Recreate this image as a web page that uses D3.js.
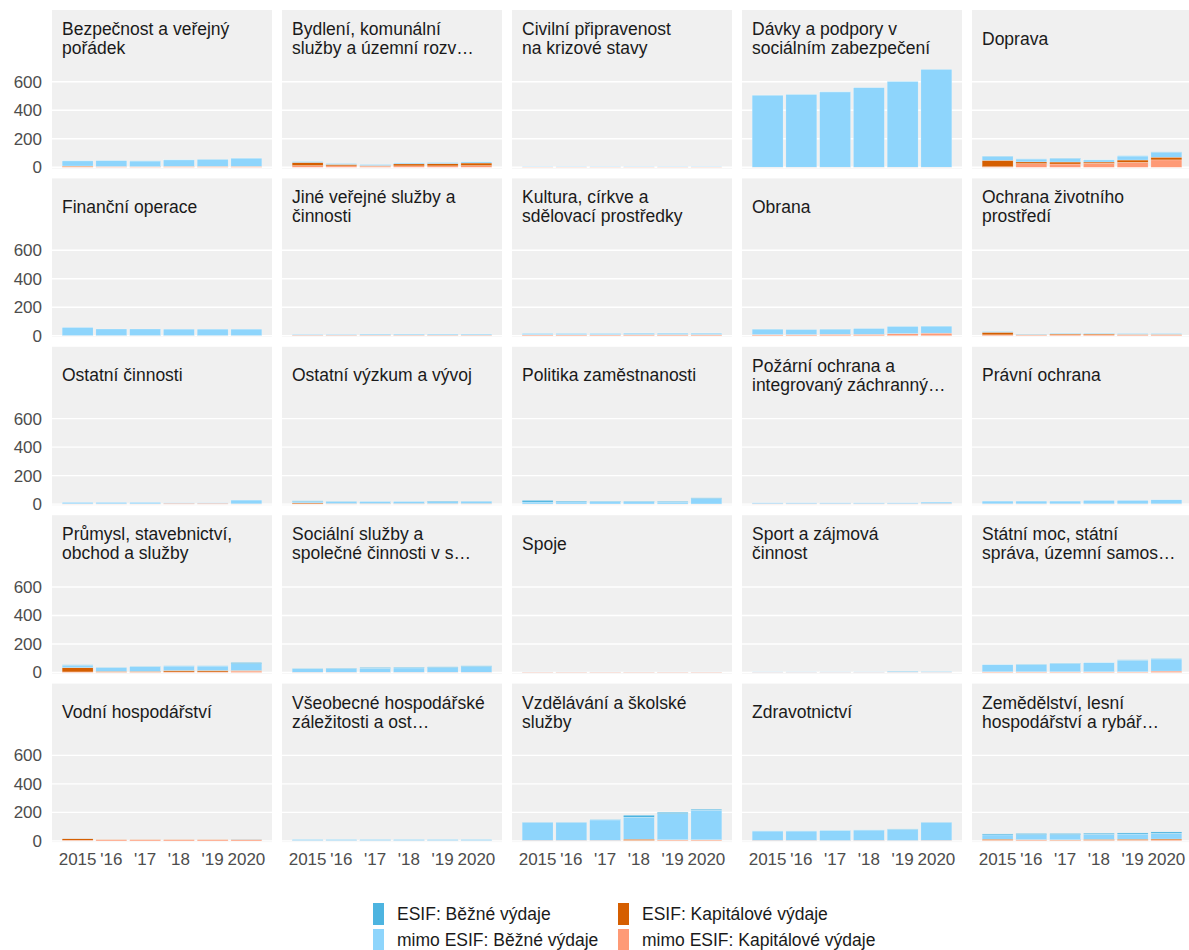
<!DOCTYPE html>
<html>
<head>
<meta charset="utf-8">
<script src="https://cdn.jsdelivr.net/npm/d3@7"></script>
<style>
  html, body { margin: 0; padding: 0; background: #fff; }
  svg { display: block; font-family: "Liberation Sans", Arial, sans-serif; }
</style>
</head>
<body>
<svg id="chart" width="1189" height="950"></svg>
<script>
// years on the x axis and their labels
const years = [2015, 2016, 2017, 2018, 2019, 2020]
const yearLabels = ['2015', "'16", "'17", "'18", "'19", '2020']
const yTicks = [0, 200, 400, 600]

// panel titles (line breaks as shown)
const categories = [
    'Bezpečnost a veřejný\npořádek',
    'Bydlení, komunální\nslužby a územní rozv…',
    'Civilní připravenost\nna krizové stavy',
    'Dávky a podpory v\nsociálním zabezpečení',
    'Doprava',
    'Finanční operace',
    'Jiné veřejné služby a\nčinnosti',
    'Kultura, církve a\nsdělovací prostředky',
    'Obrana',
    'Ochrana životního\nprostředí',
    'Ostatní činnosti',
    'Ostatní výzkum a vývoj',
    'Politika zaměstnanosti',
    'Požární ochrana a\nintegrovaný záchranný…',
    'Právní ochrana',
    'Průmysl, stavebnictví,\nobchod a služby',
    'Sociální služby a\nspolečné činnosti v s…',
    'Spoje',
    'Sport a zájmová\nčinnost',
    'Státní moc, státní\nspráva, územní samos…',
    'Vodní hospodářství',
    'Všeobecné hospodářské\nzáležitosti a ost…',
    'Vzdělávání a školské\nslužby',
    'Zdravotnictví',
    'Zemědělství, lesní\nhospodářství a rybář…'
]

// series, one row per category, values per year
const esifBezne = [
    [1,1,1,1,1,1], [1,1,1,1,1,1], [0,0,0,0,0,0], [1,1,1,1,1,1], [2,1,2,1,2,3],
    [0,0,0,0,0,0], [1,1,1,1,1,1], [1,1,1,1,1,1], [1,1,1,1,1,1], [1,1,1,1,1,1],
    [0,0,0,0,0,0], [5,2,1,1,4,2], [12,6,5,5,5,5], [0,0,0,0,0,0], [0,0,0,0,0,0],
    [3,2,2,2,2,8], [2,3,5,5,5,5], [0,0,0,0,0,0], [1,1,1,1,2,1], [2,2,2,2,3,3],
    [0,0,0,0,0,0], [1,1,1,1,1,1], [2,2,3,14,10,7], [1,1,1,1,3,2], [7,8,8,8,8,10]
]
const mimoBezne = [
    [36,40,39,45,49,57], [6,6,7,7,7,8], [3,3,3,3,3,3], [505,510,528,557,601,686], [28,20,26,15,28,34],
    [57,46,46,45,45,45], [4,4,7,7,7,7], [9,9,9,10,10,10], [38,35,36,40,50,49], [5,3,5,5,5,5],
    [10,10,10,3,3,26], [9,13,14,14,13,15], [13,14,15,15,13,38], [6,6,6,6,6,10], [19,19,19,24,24,28],
    [17,25,32,31,31,48], [24,25,28,30,33,40], [1,1,1,1,1,1], [2,2,2,2,5,4], [49,51,59,63,81,85],
    [1,0,0,0,0,2], [8,8,8,8,8,8], [125,125,143,154,183,207], [65,65,70,72,78,125], [30,35,36,35,36,40]
]
const esifKap = [
    [3,1,1,1,1,1], [22,10,4,14,16,18], [0,0,0,0,0,0], [0,0,0,0,0,0], [45,12,14,9,16,19],
    [0,0,0,0,0,0], [0,0,0,0,0,0], [1,1,1,1,1,1], [0,0,0,0,0,0], [18,3,6,6,4,4],
    [0,0,0,0,0,0], [6,1,1,1,1,1], [0,0,0,0,0,0], [0,0,0,0,0,0], [0,0,0,0,0,0],
    [30,5,5,10,10,4], [0,0,0,0,0,0], [0,0,0,0,0,0], [0,0,0,0,0,0], [0,0,0,0,0,0],
    [10,1,1,1,1,2], [0,0,0,0,0,0], [0,0,0,8,2,2], [0,0,0,0,0,0], [7,3,3,6,7,7]
]
const mimoKap = [
    [6,5,4,6,6,6], [12,10,8,10,10,12], [2,2,2,2,2,2], [1,1,1,1,1,1], [4,26,23,28,35,52],
    [1,1,1,1,1,1], [4,4,4,4,4,4], [6,6,6,7,7,7], [8,8,10,10,15,18], [6,5,7,7,6,6],
    [2,2,2,6,6,2], [3,3,3,3,3,3], [1,1,1,1,1,1], [3,3,3,3,3,4], [2,2,2,2,2,2],
    [4,3,3,4,4,10], [2,2,2,2,2,2], [3,3,3,3,3,3], [2,2,2,2,2,2], [5,5,5,5,5,10],
    [5,8,8,8,8,8], [2,2,2,2,2,2], [4,4,4,4,6,6], [4,4,3,4,3,4], [5,6,5,5,5,6]
]

// legend order / colours
const seriesOptions = [
    { key: 'esifBezne', label: 'ESIF: Běžné výdaje', color: '#4db4e0', values: esifBezne },
    { key: 'mimoBezne', label: 'mimo ESIF: Běžné výdaje', color: '#8ed5fc', values: mimoBezne },
    { key: 'esifKap', label: 'ESIF: Kapitálové výdaje', color: '#d55e00', values: esifKap },
    { key: 'mimoKap', label: 'mimo ESIF: Kapitálové výdaje', color: '#fe9a76', values: mimoKap },
]
// stacking from the bottom
const stackOrder = ['mimoKap', 'esifKap', 'mimoBezne', 'esifBezne']

const colorOf = d3.scaleOrdinal()
    .domain(seriesOptions.map(s => s.key))
    .range(seriesOptions.map(s => s.color))

// layout
const COLS = 5
const panelX0 = 52, panelY0 = 10
const panelW = 220, panelH = 158.5
const colStep = 230, rowStep = 168.4
const zeroOffset = 157.3, topOffset = 54.7

const svg = d3.select('#chart')

const x = d3.scaleBand()
    .domain(years)
    .range([0, panelW])
    .paddingInner(0.083)
    .paddingOuter(0.3)

const stack = d3.stack().keys(stackOrder)

categories.forEach((cat, ci) => {
    const col = ci % COLS
    const row = Math.floor(ci / COLS)
    const px = panelX0 + col * colStep
    const py = panelY0 + row * rowStep

    const y = d3.scaleLinear()
        .domain([0, 720])
        .range([py + zeroOffset, py + topOffset])

    const g = svg.append('g').attr('class', 'panel')

    // background incl. strip
    g.append('rect')
        .attr('x', px).attr('y', py)
        .attr('width', panelW).attr('height', panelH)
        .attr('fill', '#f0f0f0')

    // gridlines
    g.selectAll('.grid')
        .data(yTicks)
        .join('line')
        .attr('x1', px).attr('x2', px + panelW)
        .attr('y1', d => y(d)).attr('y2', d => y(d))
        .attr('stroke', '#fff')
        .attr('stroke-width', 1.4)

    // stacked bars
    const rows = years.map((yr, i) => {
        const r = { year: yr }
        seriesOptions.forEach(s => { r[s.key] = s.values[ci][i] })
        return r
    })
    const layers = stack(rows)

    g.selectAll('.layer')
        .data(layers)
        .join('g')
        .attr('fill', d => colorOf(d.key))
        .selectAll('rect')
        .data(d => d)
        .join('rect')
        .attr('x', d => px + x(d.data.year))
        .attr('width', x.bandwidth())
        .attr('y', d => y(d[1]))
        .attr('height', d => Math.max(0, y(d[0]) - y(d[1])))
        .attr('stroke', '#fff')
        .attr('stroke-width', 0.4)
        .attr('stroke-opacity', 0.6)

    // panel title
    const lines = cat.split('\n')
    const titleBase = py + 34.5
    g.append('text')
        .attr('x', px + 10)
        .attr('font-size', '17.5px')
        .attr('fill', '#1a1a1a')
        .selectAll('tspan')
        .data(lines)
        .join('tspan')
        .attr('x', px + 10)
        .attr('y', (d, i) => titleBase + (i - (lines.length - 1) / 2) * 19)
        .text(d => d)

    // y axis labels on first column
    if (col === 0) {
        g.selectAll('.ytick')
            .data(yTicks)
            .join('text')
            .attr('x', 42)
            .attr('y', d => y(d))
            .attr('dy', '0.35em')
            .attr('text-anchor', 'end')
            .attr('font-size', '17px')
            .attr('fill', '#4d4d4d')
            .text(d => d)
    }

    // x axis labels on bottom row
    if (row === Math.floor((categories.length - 1) / COLS)) {
        g.selectAll('.xtick')
            .data(years)
            .join('text')
            .attr('x', d => px + x(d) + x.bandwidth() / 2)
            .attr('y', py + zeroOffset + 24)
            .attr('text-anchor', 'middle')
            .attr('font-size', '17px')
            .attr('fill', '#4d4d4d')
            .text((d, i) => yearLabels[i])
    }
})

// legend, two columns
const legendCols = [373, 618]
const legendRows = [903, 929]
const legend = svg.append('g').attr('class', 'legend')
seriesOptions.forEach((s, i) => {
    const lx = legendCols[Math.floor(i / 2)]
    const ly = legendRows[i % 2]
    legend.append('rect')
        .attr('x', lx).attr('y', ly)
        .attr('width', 11).attr('height', 22)
        .attr('fill', s.color)
    legend.append('text')
        .attr('x', lx + 24)
        .attr('y', ly + 11)
        .attr('dy', '0.35em')
        .attr('font-size', '17.5px')
        .attr('fill', '#1a1a1a')
        .text(s.label)
})
</script>
</body>
</html>
